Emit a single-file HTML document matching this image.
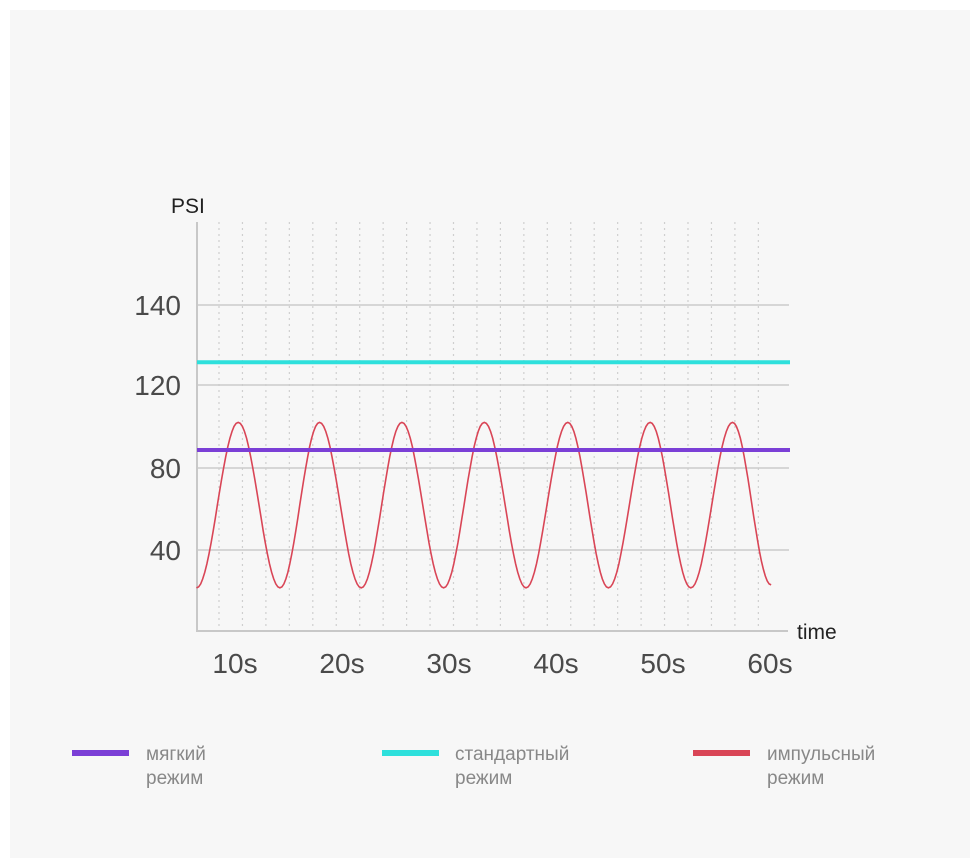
<!DOCTYPE html>
<html><head><meta charset="utf-8"><style>
html,body{margin:0;padding:0;background:#fff;}
#wrap{position:relative;width:980px;height:868px;background:#fff;}
svg{position:absolute;left:0;top:0;}
</style></head><body>
<div id="wrap">
<svg id="chart" width="980" height="868" font-family="Liberation Sans, DejaVu Sans, sans-serif"></svg>
</div>
<script>
const yTickLabels = [40, 80, 120, 140];
const xTickLabels = ["10s","20s","30s","40s","50s","60s"];
const xTickValues = [10,20,30,40,50,60];
const softValue = 88.7;
const standardValue = 125.7;
const pulseTimes = [6.4,10.3,14.2,17.9,21.8,25.6,29.5,33.3,37.2,41.1,44.9,48.8,52.6,56.5,60.1];
const pulseValues = [21.5,102,21.5,102,21.5,102,21.5,102,21.5,102,21.5,102,21.5,102,23];

const svg = document.getElementById('chart');
const NS = 'http://www.w3.org/2000/svg';
function mk(tag, attrs, parent){const e=document.createElementNS(NS,tag);for(const k in attrs)e.setAttribute(k,attrs[k]);(parent||svg).appendChild(e);return e;}

const yTickPx = [550,468,385,305];
function yScale(v){
  const t=yTickLabels, p=yTickPx;
  let i=0; if(v<t[0]) i=0; else { for(i=0;i<t.length-2;i++){ if(v<=t[i+1]) break; } }
  return p[i]+(v-t[i])*(p[i+1]-p[i])/(t[i+1]-t[i]);
}
function xScale(t){return 235+(t-10)*10.7;}

let e;
e=mk('rect',{x:10,y:10,width:960,height:848,fill:'#f7f7f7'});



for(let x=219;x<=765;x+=23.45){
  e=mk('line',{x1:x,y1:222,x2:x,y2:630,stroke:'#cfcfcf','stroke-width':1.2,'stroke-dasharray':'2 4'});
  
  
}
yTickLabels.forEach((v)=>{
  const y=yScale(v);
  e=mk('line',{x1:197,y1:y,x2:789,y2:y,stroke:'#cccccc','stroke-width':1.6});
  
  
  e=mk('text',{x:181,y:y+10,'text-anchor':'end','font-size':28,fill:'#4a4a4a'});
  e.textContent=v;
  
  
});
e=mk('line',{x1:197,y1:222,x2:197,y2:632,stroke:'#c8c8c8','stroke-width':2});


e=mk('line',{x1:196,y1:631,x2:788,y2:631,stroke:'#c8c8c8','stroke-width':2});


e=mk('text',{x:171,y:213,'font-size':21,fill:'#222'});e.textContent='PSI';


e=mk('text',{x:797,y:639,'font-size':21,fill:'#222'});e.textContent='time';


xTickLabels.forEach((l,i)=>{
  e=mk('text',{x:xScale(xTickValues[i]),y:673,'text-anchor':'middle','font-size':28,fill:'#4a4a4a'});
  e.textContent=l;
  
  
});
e=mk('line',{x1:197,y1:yScale(standardValue),x2:790,y2:yScale(standardValue),stroke:'#2ee0dc','stroke-width':4});


let d='';
for(let i=0;i<pulseTimes.length-1;i++){
  const t0=pulseTimes[i],t1=pulseTimes[i+1],v0=pulseValues[i],v1=pulseValues[i+1];
  for(let s=0;s<=20;s++){
    const f=s/20, t=t0+(t1-t0)*f;
    const v=v0+(v1-v0)*(1-Math.cos(Math.PI*f))/2;
    d+=(d?'L':'M')+xScale(t).toFixed(1)+' '+yScale(v).toFixed(1);
  }
}
e=mk('path',{d:d,fill:'none',stroke:'#d94556','stroke-width':1.6});


e=mk('line',{x1:197,y1:yScale(softValue),x2:790,y2:yScale(softValue),stroke:'#7b3fd6','stroke-width':4});



const legend=[['#7b3fd6','мягкий',72,146,'legend-soft'],['#2ee0dc','стандартный',382,455,'legend-standard'],['#d94556','импульсный',693,767,'legend-pulse']];
legend.forEach(l=>{
  const g=mk('g',{});
  
  
  e=mk('line',{x1:l[2],y1:753,x2:l[2]+57,y2:753,stroke:l[0],'stroke-width':6},g);
  
  
  e=mk('text',{x:l[3],y:760,'font-size':19,fill:'#888'},g);e.textContent=l[1];
  
  
  e=mk('text',{x:l[3],y:784,'font-size':19,fill:'#888'},g);e.textContent='режим';
  
  
});
</script>
</body></html>
